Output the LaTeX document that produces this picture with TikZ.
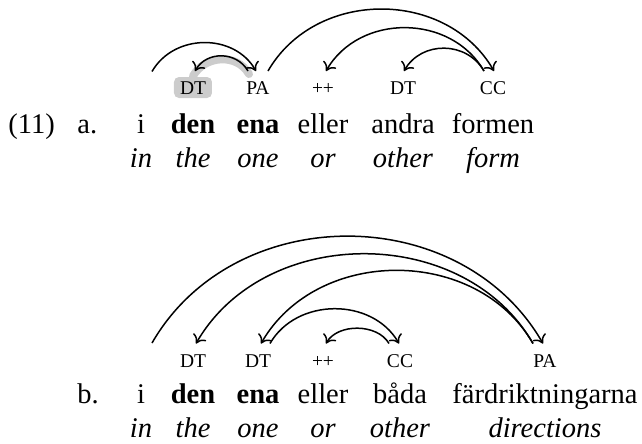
\documentclass[tikz,border=0pt]{standalone}
\usepackage{fontspec}
\setmainfont{Liberation Serif}
\usetikzlibrary{arrows.meta,calc}
\definecolor{hlgray}{gray}{0.8}
\pgfdeclarelayer{background}
\pgfsetlayers{background,main}
\begin{document}
\begin{tikzpicture}[x=0.4pt,y=0.4pt,
  wd/.style={anchor=base, inner sep=0pt, font=\fontsize{11.4}{13}\selectfont},
  gl/.style={anchor=base, inner sep=0pt, font=\fontsize{11.4}{13}\selectfont\itshape},
  lb/.style={anchor=base, inner xsep=0pt, inner ysep=4pt, text height=5.2pt, text depth=0pt, font=\fontsize{7.8}{9}\selectfont},
  dep/.style={line width=0.6pt, -{To[length=3.2pt,width=6pt]}, looseness=1.08},
  depr/.style={dep, out=60, in=120},
  depl/.style={dep, out=120, in=60},
  hlband/.style={line width=3.2pt, draw=hlgray, line cap=round, out=120, in=60, looseness=1.1}]
\useasboundingbox (0,0) rectangle (642,443);

% ---------- example a ----------
\node[wd, anchor=base west] (anum) at (8,310) {(11)};
\node[wd, anchor=base west] (alet) at (77,310) {a.};
\node[wd] (aw1) at (141,310) {i};
\node[wd] (aw2) at (193,310) {\textbf{den}};
\node[wd] (aw3) at (258,310) {\textbf{ena}};
\node[wd] (aw4) at (323,310) {eller};
\node[wd] (aw5) at (403,310) {andra};
\node[wd] (aw6) at (493,310) {formen};

\node[gl] (ag1) at (141,275.5) {in};
\node[gl] (ag2) at (193,275.5) {the};
\node[gl] (ag3) at (258,275.5) {one};
\node[gl] (ag4) at (323,275.5) {or};
\node[gl] (ag5) at (403,275.5) {other};
\node[gl] (ag6) at (493,275.5) {form};

\node[lb] (aDTa) at (193,348.5) {DT};
\node[lb] (aPA)  at (258,348.5) {PA};
\node[lb] (aPP)  at (323,348.5) {++};
\node[lb] (aDTb) at (403,348.5) {DT};
\node[lb] (aCC)  at (493,348.5) {CC};
\coordinate (ai) at (152,371.5);

\begin{pgfonlayer}{background}
  \fill[hlgray, rounded corners=2pt] ($(aDTa.base)+(-19,-3.5)$) rectangle ($(aDTa.base)+(19,17.5)$);
  \draw[hlband] ($(aPA.north)+(-9,-3)$) to ($(aDTa.north)+(0,-5)$);
\end{pgfonlayer}

\draw[depr] (ai) to ($(aPA.north)+(-2,0)$);
\draw[depl, looseness=1.12] ($(aPA.north)+(-10,0)$) to ($(aDTa.north)+(2,0)$);
\draw[depr] ($(aPA.north)+(10,0)$) to ($(aCC.north)+(1,0)$);
\draw[depl] ($(aCC.north)+(-9,0)$) to ($(aPP.north)+(3,0)$);
\draw[depl, looseness=1.12] ($(aCC.north)+(-9,0)$) to ($(aDTb.north)+(1,0)$);

% ---------- example b ----------
\node[wd, anchor=base west] (blet) at (77,40) {b.};
\node[wd] (bw1) at (141,40) {i};
\node[wd] (bw2) at (193,40) {\textbf{den}};
\node[wd] (bw3) at (258,40) {\textbf{ena}};
\node[wd] (bw4) at (323,40) {eller};
\node[wd] (bw5) at (400,40) {båda};
\node[wd] (bw6) at (545,40) {färdriktningarna};

\node[gl] (bg1) at (141,6) {in};
\node[gl] (bg2) at (193,6) {the};
\node[gl] (bg3) at (258,6) {one};
\node[gl] (bg4) at (323,6) {or};
\node[gl] (bg5) at (400,6) {other};
\node[gl] (bg6) at (545,6) {directions};

\node[lb] (bDTa) at (193,76) {DT};
\node[lb] (bDTb) at (258,76) {DT};
\node[lb] (bPP)  at (323,76) {++};
\node[lb] (bCC)  at (400,76) {CC};
\node[lb] (bPA)  at (545,76) {PA};
\coordinate (bi) at (152,100);

\draw[depr] (bi) to ($(bPA.north)+(-2,0)$);
\draw[depl, looseness=1.05] ($(bPA.north)+(-12,0)$) to ($(bDTa.north)+(3,0)$);
\draw[depl, looseness=1.06] ($(bPA.north)+(-12,0)$) to ($(bDTb.north)+(3,0)$);
\draw[depr, looseness=1.06] ($(bDTb.north)+(12,0)$) to ($(bCC.north)+(-1,0)$);
\draw[depl, looseness=0.95] ($(bCC.north)+(-11,0)$) to ($(bPP.north)+(3,0)$);
\end{tikzpicture}
\end{document}
